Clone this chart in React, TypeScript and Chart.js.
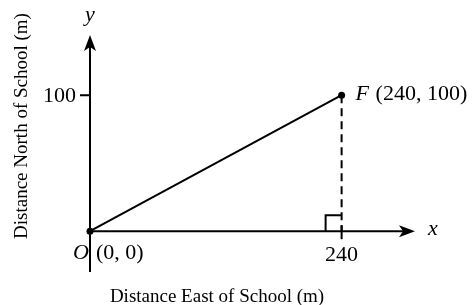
import React, { useEffect, useRef } from "react";
import { Chart, registerables } from "chart.js";

Chart.register(...registerables);

const pointNames = ["O", "F"];
const xValues = [0, 240];
const yValues = [0, 100];
const xTicks = [240];
const yTicks = [100];
const xRange = [0, 310];
const yRange = [-30, 144.3];
const xTitle = "Distance East of School (m)";
const yTitle = "Distance North of School (m)";

const FONT = "'Liberation Serif', 'Times New Roman', serif";
const LABEL_SIZE = 22;
const TITLE_SIZE = 19;

const axesPlugin = {
  id: "axesPlugin",
  beforeDatasetsDraw(chart: any) {
    const ctx = chart.ctx as CanvasRenderingContext2D;
    const xs = chart.scales.x;
    const ys = chart.scales.y;
    const x0 = xs.getPixelForValue(0);
    const y0 = ys.getPixelForValue(0);
    const yTop = ys.getPixelForValue(yRange[1]);
    const yBot = ys.getPixelForValue(yRange[0]);
    const xRight = xs.getPixelForValue(xRange[1]);
    ctx.save();
    ctx.strokeStyle = "#000";
    ctx.fillStyle = "#000";
    ctx.lineWidth = 2;
    // y axis
    ctx.beginPath();
    ctx.moveTo(x0, yBot);
    ctx.lineTo(x0, yTop + 10);
    ctx.stroke();
    ctx.beginPath();
    ctx.moveTo(x0, yTop);
    ctx.lineTo(x0 - 6, yTop + 16);
    ctx.lineTo(x0, yTop + 12);
    ctx.lineTo(x0 + 6, yTop + 16);
    ctx.closePath();
    ctx.fill();
    // x axis
    ctx.beginPath();
    ctx.moveTo(x0, y0);
    ctx.lineTo(xRight - 10, y0);
    ctx.stroke();
    ctx.beginPath();
    ctx.moveTo(xRight, y0);
    ctx.lineTo(xRight - 16, y0 - 6);
    ctx.lineTo(xRight - 12, y0);
    ctx.lineTo(xRight - 16, y0 + 6);
    ctx.closePath();
    ctx.fill();
    // ticks
    ctx.font = `${LABEL_SIZE}px ${FONT}`;
    yTicks.forEach((v) => {
      const py = ys.getPixelForValue(v);
      ctx.beginPath();
      ctx.moveTo(x0 - 10, py);
      ctx.lineTo(x0, py);
      ctx.stroke();
      ctx.textAlign = "right";
      ctx.textBaseline = "middle";
      ctx.fillText(String(v), x0 - 14, py + 1);
    });
    xTicks.forEach((v) => {
      const px = xs.getPixelForValue(v);
      ctx.beginPath();
      ctx.moveTo(px, y0 - 6);
      ctx.lineTo(px, y0 + 8);
      ctx.stroke();
      ctx.textAlign = "center";
      ctx.textBaseline = "middle";
      ctx.fillText(String(v), px, y0 + 24);
      ctx.beginPath();
      ctx.moveTo(px - 16, y0);
      ctx.lineTo(px - 16, y0 - 16);
      ctx.lineTo(px, y0 - 16);
      ctx.stroke();
    });
    // axis letters
    ctx.font = `italic ${LABEL_SIZE}px ${FONT}`;
    ctx.textAlign = "center";
    ctx.textBaseline = "middle";
    ctx.fillText("y", x0, yTop - 20);
    ctx.fillText("x", xRight + 18, y0 - 2);
    // titles
    ctx.font = `${TITLE_SIZE}px ${FONT}`;
    ctx.fillText(xTitle, 217, 297);
    ctx.save();
    ctx.translate(22, 126);
    ctx.rotate(-Math.PI / 2);
    ctx.fillText(yTitle, 0, 0);
    ctx.restore();
    ctx.restore();
  },
  afterDatasetsDraw(chart: any) {
    const ctx = chart.ctx as CanvasRenderingContext2D;
    const xs = chart.scales.x;
    const ys = chart.scales.y;
    ctx.save();
    ctx.fillStyle = "#000";
    ctx.textBaseline = "middle";
    const ox = xs.getPixelForValue(xValues[0]);
    const oy = ys.getPixelForValue(yValues[0]);
    ctx.font = `italic ${LABEL_SIZE}px ${FONT}`;
    ctx.textAlign = "right";
    ctx.fillText(pointNames[0], ox - 1, oy + 22);
    ctx.font = `${LABEL_SIZE}px ${FONT}`;
    ctx.textAlign = "left";
    ctx.fillText(`(${xValues[0]}, ${yValues[0]})`, ox + 6, oy + 22);
    const fx = xs.getPixelForValue(xValues[1]);
    const fy = ys.getPixelForValue(yValues[1]);
    ctx.font = `italic ${LABEL_SIZE}px ${FONT}`;
    ctx.textAlign = "left";
    const fLabel = pointNames[1];
    ctx.fillText(fLabel, fx + 14, fy - 1);
    const w = ctx.measureText(fLabel + " ").width;
    ctx.font = `${LABEL_SIZE}px ${FONT}`;
    ctx.fillText(`(${xValues[1]}, ${yValues[1]})`, fx + 14 + w + 1, fy - 1);
    ctx.restore();
  },
};

export default function App() {
  const ref = useRef<HTMLCanvasElement | null>(null);
  useEffect(() => {
    if (!ref.current) return;
    const chart = new Chart(ref.current, {
      type: "scatter",
      data: {
        datasets: [
          {
            data: xValues.map((x, i) => ({ x, y: yValues[i] })),
            showLine: true,
            borderColor: "#000",
            borderWidth: 2,
            pointRadius: 3.5,
            pointBackgroundColor: "#000",
            pointBorderWidth: 0,
            clip: false,
          },
          {
            data: [
              { x: xValues[1], y: yValues[1] },
              { x: xValues[1], y: 0 },
            ],
            showLine: true,
            borderColor: "#000",
            borderWidth: 2,
            borderDash: [8, 5],
            pointRadius: 0,
            clip: false,
          },
        ],
      },
      options: {
        responsive: false,
        animation: false,
        layout: { padding: { left: 90, right: 60, top: 35, bottom: 33 } },
        plugins: { legend: { display: false }, tooltip: { enabled: false } },
        scales: {
          x: { type: "linear", min: xRange[0], max: xRange[1], display: false },
          y: { type: "linear", min: yRange[0], max: yRange[1], display: false },
        },
      },
      plugins: [axesPlugin],
    });
    return () => chart.destroy();
  }, []);
  return (
    <div style={{ position: "absolute", left: 0, top: 0, width: 475, height: 305, background: "#fff" }}>
      <canvas ref={ref} width={475} height={305} />
    </div>
  );
}
